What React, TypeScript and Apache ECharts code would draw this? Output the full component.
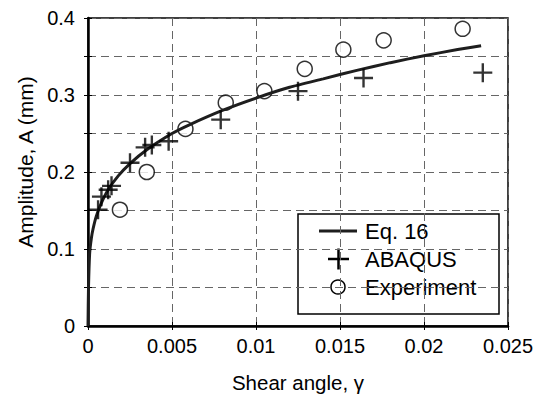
import React, { useEffect, useRef } from "react";
import * as echarts from "echarts";

const eqGamma = [0, 0.00003, 0.0001, 0.0002, 0.0003, 0.0005, 0.0008, 0.0012, 0.0018, 0.0025, 0.0035, 0.005, 0.006, 0.008, 0.01, 0.012, 0.014, 0.016, 0.018, 0.02, 0.022, 0.0234];
const eqAmp = [0, 0.05, 0.095, 0.114, 0.126, 0.143, 0.16, 0.177, 0.195, 0.211, 0.229, 0.25, 0.261, 0.28, 0.296, 0.31, 0.321, 0.332, 0.342, 0.351, 0.359, 0.364];

const abaqusGamma = [0.0006, 0.0008, 0.0012, 0.0014, 0.0025, 0.0034, 0.0038, 0.0048, 0.0079, 0.0125, 0.0164, 0.0235];
const abaqusAmp = [0.151, 0.168, 0.177, 0.182, 0.212, 0.232, 0.235, 0.24, 0.268, 0.305, 0.322, 0.329];

const expGamma = [0.0019, 0.0035, 0.0058, 0.0082, 0.0105, 0.0129, 0.0152, 0.0176, 0.0223];
const expAmp = [0.151, 0.2, 0.256, 0.29, 0.305, 0.334, 0.359, 0.371, 0.386];

const seriesNames = ["Eq. 16", "ABAQUS", "Experiment"];
const xTitle = "Shear angle, γ";
const yTitle = "Amplitude, A (mm)";

const FONT = "'Liberation Sans', Arial, Helvetica, sans-serif";
const CROSS = "path://M8.75,0H11.25V8.75H20V11.25H11.25V20H8.75V11.25H0V8.75H8.75Z";

export default function App() {
  const ref = useRef<HTMLDivElement>(null);
  useEffect(() => {
    if (!ref.current) return;
    const chart = echarts.init(ref.current, null, { renderer: "svg" });
    const gridLine = { show: true, lineStyle: { color: "#666", type: [8, 5] as any, width: 1 } };
    const yFmt = (v: number) => {
      const t = v * 10;
      return Math.abs(t - Math.round(t)) < 1e-6 ? String(Math.round(t) / 10) : "";
    };
    const xBase = {
      type: "value" as const,
      min: 0,
      max: 0.025,
      interval: 0.005,
    };
    const yBase = {
      type: "value" as const,
      min: 0,
      max: 0.4,
      interval: 0.05,
    };
    const legendX = 298, legendY = 214;
    chart.setOption({
      animation: false,
      backgroundColor: "#fff",
      grid: { left: 88, right: 31, top: 18, bottom: 70, show: true, borderColor: "#000", borderWidth: 1.5, backgroundColor: "transparent" },
      xAxis: [
        {
          ...xBase,
          position: "bottom",
          axisLine: { show: true, onZero: false, lineStyle: { color: "#000", width: 2.5 } },
          axisTick: { show: true, inside: true, length: 4, lineStyle: { color: "#000", width: 1 } },
          axisLabel: { color: "#000", fontSize: 20, fontFamily: FONT, margin: 10 },
          splitLine: gridLine,
        },
        {
          ...xBase,
          position: "top",
          axisLine: { show: false },
          axisTick: { show: true, inside: true, length: 4, lineStyle: { color: "#000", width: 1 } },
          axisLabel: { show: false },
          splitLine: { show: false },
        },
      ],
      yAxis: [
        {
          ...yBase,
          position: "left",
          axisLine: { show: true, onZero: false, lineStyle: { color: "#000", width: 2.5 } },
          axisTick: { show: true, inside: true, length: 4, lineStyle: { color: "#000", width: 1 } },
          axisLabel: { color: "#000", fontSize: 20, fontFamily: FONT, margin: 13, formatter: yFmt, showMinLabel: true, showMaxLabel: true },
          splitLine: gridLine,
        },
        {
          ...yBase,
          position: "right",
          axisLine: { show: false },
          axisTick: { show: true, inside: true, length: 4, lineStyle: { color: "#000", width: 1 } },
          axisLabel: { show: false },
          splitLine: { show: false },
        },
      ],
      series: [
        {
          name: seriesNames[2],
          type: "scatter",
          data: expGamma.map((g, i) => [g, expAmp[i]]),
          symbol: "circle",
          symbolSize: 15,
          itemStyle: { color: "#fff", borderColor: "#000", borderWidth: 1.5 },
          z: 3,
        },
        {
          name: seriesNames[0],
          type: "line",
          data: eqGamma.map((g, i) => [g, eqAmp[i]]),
          showSymbol: false,
          symbol: "none",
          smooth: 0.2,
          lineStyle: { color: "#1e1e1e", width: 3 },
          z: 4,
        },
        {
          name: seriesNames[1],
          type: "scatter",
          data: abaqusGamma.map((g, i) => [g, abaqusAmp[i]]),
          symbol: CROSS,
          symbolSize: 19,
          itemStyle: { color: "#000" },
          z: 5,
        },
      ],
      graphic: [
        {
          type: "text",
          x: 25,
          y: 162,
          rotation: Math.PI / 2,
          style: { text: yTitle, fontSize: 21, fontFamily: FONT, fill: "#000", align: "center", verticalAlign: "middle" },
        },
        {
          type: "text",
          x: 298,
          y: 382,
          style: { text: xTitle, fontSize: 20.5, fontFamily: FONT, fill: "#000", align: "center", verticalAlign: "middle" },
        },
        {
          type: "group",
          x: legendX,
          y: legendY,
          z: 10,
          children: [
            { type: "rect", shape: { x: 0, y: 0, width: 201, height: 100 }, style: { fill: "#fff", stroke: "#000", lineWidth: 1.5 } },
            { type: "line", shape: { x1: 21, y1: 17, x2: 59, y2: 17 }, style: { stroke: "#1e1e1e", lineWidth: 3 } },
            { type: "line", shape: { x1: 30, y1: 45, x2: 51, y2: 45 }, style: { stroke: "#000", lineWidth: 2.5 } },
            { type: "line", shape: { x1: 40.5, y1: 34.5, x2: 40.5, y2: 55.5 }, style: { stroke: "#000", lineWidth: 2.5 } },
            { type: "circle", shape: { cx: 40, cy: 73, r: 7 }, style: { fill: "#fff", stroke: "#000", lineWidth: 1.5 } },
            { type: "text", x: 67, y: 17, style: { text: seriesNames[0], fontSize: 22, fontFamily: FONT, fill: "#000", verticalAlign: "middle" } },
            { type: "text", x: 67, y: 45, style: { text: seriesNames[1], fontSize: 22, fontFamily: FONT, fill: "#000", verticalAlign: "middle" } },
            { type: "text", x: 67, y: 73, style: { text: seriesNames[2], fontSize: 22, fontFamily: FONT, fill: "#000", verticalAlign: "middle" } },
          ],
        },
      ],
    });
    return () => chart.dispose();
  }, []);
  return <div ref={ref} style={{ position: "fixed", left: 0, top: 0, width: 539, height: 396 }} />;
}
